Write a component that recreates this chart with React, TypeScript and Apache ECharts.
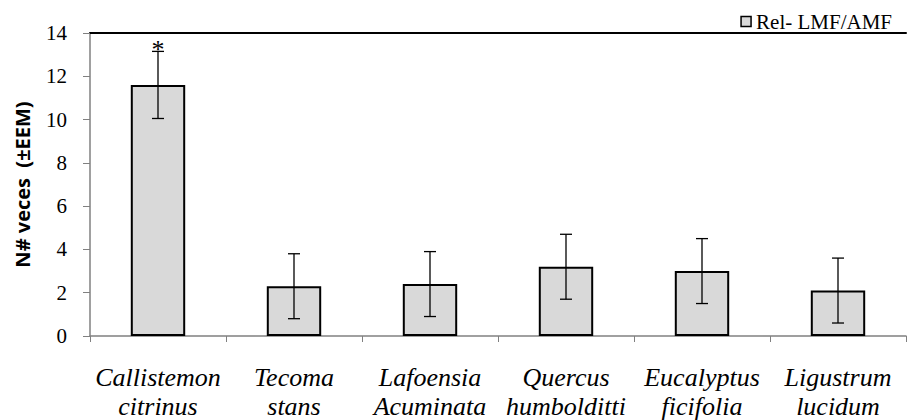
import React, { useEffect, useRef } from "react";
import * as echarts from "echarts";

const categories = [
  "Callistemon\ncitrinus",
  "Tecoma\nstans",
  "Lafoensia\nAcuminata",
  "Quercus\nhumbolditti",
  "Eucalyptus\nficifolia",
  "Ligustrum\nlucidum",
];
const means = [11.6, 2.3, 2.4, 3.2, 3.0, 2.1];
const errors = [1.55, 1.5, 1.5, 1.5, 1.5, 1.5];
const marks = ["*", "", "", "", "", ""];
const yTicks = [0, 2, 4, 6, 8, 10, 12, 14];
const seriesName = "Rel- LMF/AMF";

const SERIF = "'Liberation Serif', 'Times New Roman', serif";

export default function App() {
  const ref = useRef<HTMLDivElement>(null);
  useEffect(() => {
    if (!ref.current) return;
    const chart = echarts.init(ref.current, null, { renderer: "svg" });
    const errData = means.map((m, i) => [i, m - errors[i], m + errors[i]]);
    chart.setOption({
      animation: false,
      grid: { left: 90, right: 1, top: 33, bottom: 84, containLabel: false, outerBoundsMode: "none" },
      legend: {
        right: 10,
        top: 6,
        itemWidth: 10,
        itemHeight: 10,
        itemGap: 4,
        data: [{ name: seriesName, icon: "rect", itemStyle: { borderWidth: 1.5, borderColor: "#000" } }],
        textStyle: { fontFamily: SERIF, fontSize: 21, color: "#000", padding: [2, 0, 0, 0] },
      },
      xAxis: [
        {
          type: "category",
          data: categories,
          axisLine: { lineStyle: { color: "#808080", width: 1.5 } },
          axisTick: { show: true, alignWithLabel: false, length: 6, lineStyle: { color: "#808080" } },
          axisLabel: {
            fontFamily: SERIF,
            fontStyle: "italic",
            fontSize: 26,
            color: "#000",
            lineHeight: 29,
            margin: 27,
            interval: 0,
          },
        },
        {
          type: "category",
          position: "top",
          data: categories,
          axisLine: { show: true, lineStyle: { color: "#000", width: 2 } },
          axisTick: { show: false },
          axisLabel: { show: false },
        },
      ],
      yAxis: {
        type: "value",
        min: 0,
        max: 14,
        interval: 2,
        name: "N# veces  (±EEM)",
        nameLocation: "middle",
        nameGap: 58,
        nameTextStyle: { fontFamily: "'Open Sans', sans-serif", fontWeight: "bold", fontSize: 20, color: "#000" },
        axisLine: { show: true, lineStyle: { color: "#808080", width: 1.5 } },
        axisTick: { show: true, length: 7, lineStyle: { color: "#808080" } },
        splitLine: { show: false },
        axisLabel: {
          fontFamily: SERIF,
          fontSize: 21,
          color: "#000",
          margin: 23,
          formatter: (v: number) => (yTicks.includes(v) ? String(v) : ""),
        },
      },
      series: [
        {
          name: seriesName,
          type: "bar",
          data: means,
          barWidth: "40%",
          itemStyle: { color: "#d9d9d9", borderColor: "#000", borderWidth: 2 },
        },
        {
          type: "custom",
          data: errData,
          z: 10,
          itemStyle: { color: "#000" },
          renderItem: (params: any, api: any) => {
            const x = api.value(0);
            const lo = api.coord([x, api.value(1)]);
            const hi = api.coord([x, api.value(2)]);
            const cap = 6;
            const style = { stroke: "#000", lineWidth: 1.3 };
            const children: any[] = [
              { type: "line", shape: { x1: lo[0], y1: lo[1], x2: hi[0], y2: hi[1] }, style },
              { type: "line", shape: { x1: lo[0] - cap, y1: lo[1], x2: lo[0] + cap, y2: lo[1] }, style },
              { type: "line", shape: { x1: hi[0] - cap, y1: hi[1], x2: hi[0] + cap, y2: hi[1] }, style },
            ];
            const mark = marks[params.dataIndex];
            if (mark) {
              children.push({
                type: "text",
                x: hi[0],
                y: hi[1] + 11,
                style: {
                  text: mark,
                  fontFamily: SERIF,
                  fontSize: 26,
                  fill: "#000",
                  stroke: "none",
                  align: "center",
                  verticalAlign: "bottom",
                },
              });
            }
            return { type: "group", children };
          },
        },
      ],
    });
    return () => chart.dispose();
  }, []);
  return <div ref={ref} style={{ width: 907, height: 420, position: "absolute", left: 0, top: 0 }} />;
}
